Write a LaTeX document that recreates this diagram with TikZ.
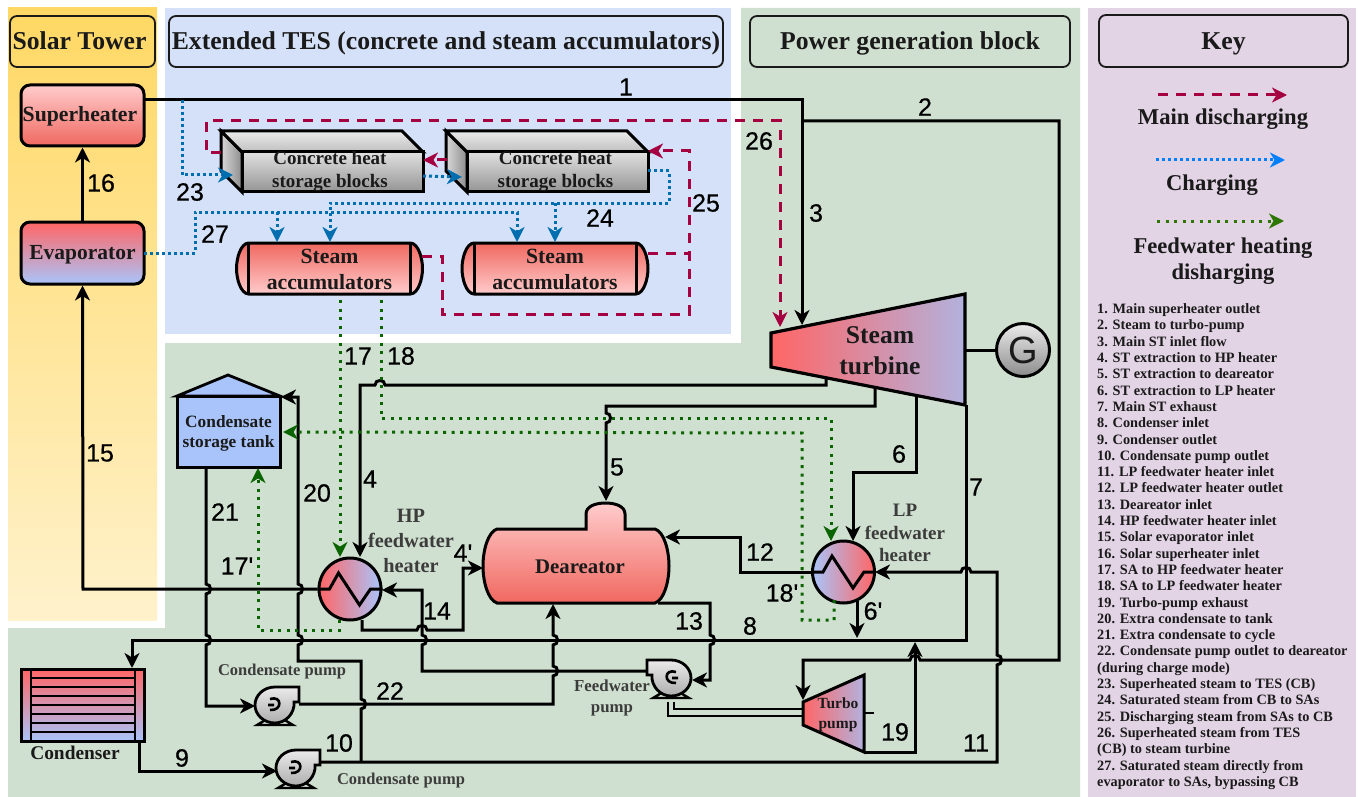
\documentclass[tikz,border=0pt]{standalone}
\usepackage{fontspec}
\setmainfont{Liberation Serif}
\newfontfamily\numfont[FakeBold=0.6]{Liberation Sans}
\newfontfamily\genfont{Liberation Sans}
\usepackage{xcolor}
\usetikzlibrary{arrows.meta, calc}
\definecolor{solartop}{RGB}{255,216,100}
\definecolor{solarbot}{RGB}{255,242,204}
\definecolor{tesblue}{RGB}{212,225,248}
\definecolor{pgreen}{RGB}{208,224,208}
\definecolor{keyback}{RGB}{226,211,229}
\definecolor{hotred}{RGB}{255,102,102}
\definecolor{warmred}{RGB}{240,104,96}
\definecolor{palered}{RGB}{255,204,204}
\definecolor{coldblue}{RGB}{169,196,250}
\definecolor{turbblue}{RGB}{178,178,222}
\definecolor{redline}{RGB}{165,0,64}
\definecolor{blueline}{RGB}{0,110,175}
\definecolor{greenline}{RGB}{10,100,0}
\definecolor{keyblue}{RGB}{0,127,255}
\definecolor{keygreen}{RGB}{45,118,0}
\definecolor{inkdark}{RGB}{26,26,26}
\newcommand{\fsz}[2]{\fontsize{#1}{#2}\selectfont\bfseries}
\newcommand{\midtxt}[2]{\raisebox{#1}[0pt][0pt]{#2}}
% line hops, put inside a path
\newcommand{\hopdn}[2]{-- (#1,#2-5) .. controls +(6,0) and +(6,0) .. (#1,#2+5)}
\newcommand{\hopup}[2]{-- (#1,#2+5) .. controls +(6,0) and +(6,0) .. (#1,#2-5)}
\newcommand{\hopri}[2]{-- (#1-5,#2) .. controls +(0,-6) and +(0,-6) .. (#1+5,#2)}
\newcommand{\hople}[2]{-- (#1+5,#2) .. controls +(0,-6) and +(0,-6) .. (#1-5,#2)}
\tikzset{
  titlebox/.style={draw=inkdark, line width=1.8pt, rounded corners=7pt, font=\fsz{25.7}{28}, text=inkdark, inner sep=0pt},
  equip/.style={draw=black, line width=3pt, inner sep=0pt, text=inkdark},
  pipe/.style={draw=black, line width=3pt},
  tipped/.style={-{Stealth[length=15pt,width=15pt,inset=4.5pt]}},
  redflow/.style={draw=redline, line width=3pt, dash pattern=on 10pt off 8pt},
  blueflow/.style={draw=blueline, line width=3pt, dash pattern=on 3pt off 3pt},
  greenflow/.style={draw=greenline, line width=3pt, dash pattern=on 3pt off 5.5pt},
  numlabel/.style={font=\numfont\fontsize{25}{25}\selectfont, inner sep=0pt, text=black},
  keytext/.style={font=\fsz{22.6}{26}, text=inkdark, inner sep=0pt, align=center},
  smalltext/.style={font=\fsz{16.5}{21}, text=inkdark!85!white, inner sep=0pt, align=center},
  pumpsym/.pic={
    \draw[line width=2.4pt] (-8,14) -- (-18,20) -- (18,20) -- (8,14);
    \draw[line width=2.8pt, top color=white!92!black, bottom color=black!32] (0,-18) -- (24,-18) -- (24,-3) -- (19,-3)
      .. controls (20,8) and (11,18) .. (0,18) .. controls (-11,18) and (-20,10) .. (-20,0)
      .. controls (-20,-10) and (-11,-18) .. (0,-18) -- cycle;
    \draw[line width=2.6pt] (-5,-6) .. controls (7,-10) and (8,6) .. (-5,5) (-7,0) -- (-1,0);
  },
  heatblock/.pic={
    \draw[line width=3pt, left color=black!15, right color=black!45] (0,0) -- (21,21) -- (21,61) -- (0,40) -- cycle;
    \draw[line width=3pt, top color=black!8, bottom color=black!25] (0,0) -- (181,0) -- (202,21) -- (21,21) -- cycle;
    \draw[line width=3pt, top color=black!12, bottom color=black!42] (21,21) rectangle (202,61);
  },
  accumsym/.pic={
    \draw[line width=3pt, top color=warmred, bottom color=palered] (-81,-25.5) -- (81,-25.5)
      .. controls (89,-25) and (93,-10) .. (93,0) .. controls (93,10) and (89,25) .. (81,25.5)
      -- (-81,25.5) .. controls (-89,25) and (-93,10) .. (-93,0) .. controls (-93,-10) and (-89,-25) .. (-81,-25.5) -- cycle;
    \draw[line width=3pt] (-81,-25.5) -- (-81,25.5) (81,-25.5) -- (81,25.5);
  },
}

\begin{document}
\begin{tikzpicture}[x=1pt, y=-1pt]
  \useasboundingbox (0,0) rectangle (1358,797);

  % background panels
  \fill[top color=solartop, bottom color=solarbot] (8,8) rectangle (157,620);
  \fill[tesblue] (165,8) rectangle (731,334);
  \fill[pgreen] (741,8) -- (1080,8) -- (1080,797) -- (8,797) -- (8,628) -- (165,628) -- (165,343) -- (741,343) -- cycle;
  \fill[keyback] (1088,8) rectangle (1356,797);

  \node[titlebox, minimum width=145pt, minimum height=51pt] (titlesolar) at (82.5,41.5) {\hspace*{-6pt}\midtxt{-8.5pt}{Solar Tower}};
  \node[titlebox, minimum width=554pt, minimum height=51pt] (titletes) at (446,41.5) {\midtxt{-8.5pt}{Extended TES (concrete and steam accumulators)}};
  \node[titlebox, minimum width=320pt, minimum height=51pt] (titlepower) at (910,41.5) {\midtxt{-8.5pt}{Power generation block}};
  \node[titlebox, minimum width=249pt, minimum height=52pt] (titlekey) at (1223.5,41) {\midtxt{-8.5pt}{Key}};

  % solar tower
  \node[equip, rounded corners=9pt, top color=palered, bottom color=warmred, minimum width=123pt, minimum height=61pt,
        font=\fsz{21.7}{24}] (superheater) at (82.5,115.5) {\hspace*{-5pt}\midtxt{-6.5pt}{Superheater}};
  \node[equip, rounded corners=9pt, top color=hotred, bottom color=coldblue, minimum width=123pt, minimum height=62pt,
        font=\fsz{21.5}{24}] (evaporator) at (82.5,253) {\midtxt{-6.5pt}{Evaporator}};

  % storage
  \pic at (221,131) {heatblock};
  \pic at (446,131) {heatblock};
  \node[font=\fsz{19}{23}, align=center, inner sep=0pt, text=inkdark] (blocka) at (330,172) {Concrete heat\\storage blocks};
  \node[font=\fsz{19}{23}, align=center, inner sep=0pt, text=inkdark] (blockb) at (555.5,172) {Concrete heat\\storage blocks};
  \pic at (329.5,268.5) {accumsym};
  \pic at (555,268.5) {accumsym};
  \node[font=\fsz{21.7}{26}, align=center, inner sep=0pt, text=inkdark] (accuma) at (329.5,269) {Steam\\accumulators};
  \node[font=\fsz{21.7}{26}, align=center, inner sep=0pt, text=inkdark] (accumb) at (555,269) {Steam\\accumulators};

  % power block equipment
  \draw[line width=3.2pt, left color=hotred, right color=turbblue] (771,333) -- (965,294) -- (965,405) -- (771,367) -- cycle;
  \node[font=\fsz{25.6}{31}, align=center, inner sep=0pt, text=inkdark] (turbine) at (880,351) {Steam\\turbine};
  \node[equip, circle, top color=black!8, bottom color=black!45, minimum size=53pt, font=\genfont\fontsize{38}{38}\selectfont] (gen) at (1023,350) {G};

  \draw[line width=3pt, left color=hotred, right color=turbblue] (803,702) -- (864,675) -- (864,752) -- (803,725) -- cycle;
  \node[font=\fsz{15.5}{20}, align=center, inner sep=0pt, text=inkdark] (turbopump) at (838,715) {Turbo\\pump};

  \node[equip, circle, left color=hotred, right color=coldblue, minimum size=62pt] (hpheater) at (350,589) {};
  \node[equip, circle, left color=coldblue, right color=hotred, minimum size=62pt] (lpheater) at (843.5,572) {};
  \foreach \hname in {hpheater,lpheater}
    \draw[pipe] (\hname.west) -- ++(12,0) -- ++(9,-16) -- ++(21,32) -- ++(11,-16) -- (\hname.east);
  \node[smalltext, font=\fsz{20.3}{25}] (hplabel) at (411,540.5) {HP\\feedwater\\heater};
  \node[smalltext, font=\fsz{19}{22.5}] (lplabel) at (905,533) {LP\\feedwater\\heater};

  \draw[line width=3pt, top color=palered, bottom color=warmred] (497,529) -- (586,529) -- (586,514)
    .. controls (586,506) and (596,503) .. (605.5,503) .. controls (615,503) and (625,506) .. (625,514) -- (625,529) -- (655,529)
    .. controls (664,532) and (669,550) .. (669,566) .. controls (669,582) and (664,600) .. (655,603) -- (497,603)
    .. controls (488,600) and (483,582) .. (483,566) .. controls (483,550) and (488,532) .. (497,529) -- cycle;
  \node[font=\fsz{20.8}{22}, inner sep=0pt, text=inkdark] (deareator) at (580,566.5) {Deareator};

  \draw[line width=2.8pt, fill=coldblue] (177,396) -- (228,375) -- (280,396) -- cycle;
  \node[equip, fill=coldblue, minimum width=103pt, minimum height=71pt] (tank) at (228.5,431.5) {};
  \node[font=\fsz{17.3}{20.5}, align=center, inner sep=0pt, text=inkdark] (tanklabel) at (228.5,433.5) {Condensate\\storage tank};

  \node[equip, top color=hotred, bottom color=coldblue, minimum width=123pt, minimum height=72pt] (condenser) at (82.5,705) {};
  \foreach \ylev in {678,687,696,705,714,723,732}
    \draw[line width=2.4pt] (31,\ylev) -- (135,\ylev);
  \draw[line width=2.8pt] (31,669) -- (31,741) (135,669) -- (135,741);
  \node[font=\fsz{19.4}{20}, inner sep=0pt, text=inkdark] (condlabel) at (75,752.5) {Condenser};

  \pic at (275,705) {pumpsym};
  \pic at (296,768) {pumpsym};
  \pic[xscale=-1] at (671,678) {pumpsym};
  \node[smalltext] (pumpa) at (282,672) {Condensate pump};
  \node[smalltext] (pumpb) at (401,781) {Condensate pump};
  \node[smalltext, font=\fsz{16.8}{21}] (pumpc) at (612,697.5) {Feedwater\\pump};

  % connector ends
  \coordinate (shout) at (144,100);
  \coordinate (st3) at (802,325);
  \coordinate (split2) at (802,121);
  \coordinate (tpin) at (803,700);
  \coordinate (ext4) at (826,378);
  \coordinate (hp4) at (360,557);
  \coordinate (ext5) at (875,387);
  \coordinate (ext6) at (916,396);
  \coordinate (ext7) at (966,405);
  \coordinate (lp6) at (853,541);
  \coordinate (dome) at (606,501);
  \coordinate (condin) at (132,668);
  \coordinate (lpout) at (857,601);
  \coordinate (line8a) at (857,638);
  \coordinate (tpout) at (864,752);
  \coordinate (line8b) at (915,642);
  \coordinate (condout) at (139,741);
  \coordinate (cpbin) at (277,771);
  \coordinate (cpbout) at (320,762);
  \coordinate (lpin) at (875,572);
  \coordinate (tee10) at (361,762);
  \coordinate (tankin) at (281,397);
  \coordinate (tankout) at (206,467);
  \coordinate (cpain) at (255,706);
  \coordinate (cpaout) at (299,704);
  \coordinate (dearbot) at (553,604);
  \coordinate (dearin12) at (665,537);
  \coordinate (dearout) at (658,603);
  \coordinate (fwin) at (692,680);
  \coordinate (fwout) at (647,671);
  \coordinate (hpin) at (382,590);
  \coordinate (hpout) at (362,620);
  \coordinate (dearin4) at (483,568);
  \coordinate (turbright) at (965,350);

  % main lines
  \draw[pipe, tipped] (evaporator.north) -- (superheater.south);
  \draw[pipe, tipped] (shout) -- (802,100) -- (st3);
  \draw[pipe, tipped] (split2) -- (1059,121) -- (1059,660) \hople{915}{660} -- (803,660) -- (tpin);
  \draw[pipe, tipped] (ext4) -- (826,385) \hople{380}{385} -- (360,385) -- (hp4);
  \draw[pipe, tipped] (ext5) -- (875,406) -- (606,406) \hopdn{606}{418} -- (dome);
  \draw[pipe, tipped] (ext6) -- (916,472) -- (853,472) -- (lp6);
  \draw[pipe, tipped] (ext7) -- (966,640) -- (132,640) -- (condin);
  \draw[pipe, tipped] (lpout) -- (line8a);
  \draw[pipe, tipped] (tpout) -- (915,752) -- (line8b);
  \draw[pipe, tipped] (condout) -- (139,771) -- (cpbin);
  \draw[pipe, tipped] (cpbout) -- (997,762) \hopup{997}{660} -- (997,572) \hople{966}{572} -- (lpin);
  \draw[pipe, tipped] (tee10) \hopup{361}{704} -- (361,661) -- (298,661) \hopup{298}{640} \hopup{298}{589} -- (298,397) -- (tankin);
  \draw[pipe, tipped] (tankout) \hopdn{206}{589} \hopdn{206}{640} -- (206,706) -- (cpain);
  \draw[pipe, tipped] (cpaout) -- (553,704) \hopup{553}{671} \hopup{553}{640} -- (dearbot);
  \draw[pipe, tipped] (hpheater.west) -- (83,589) -- (evaporator.south);
  \draw[pipe, tipped] (lpheater.west) -- (740,572) -- (740,537) -- (dearin12);
  \draw[pipe, tipped] (dearout) -- (710,603) \hopdn{710}{640} -- (710,680) -- (fwin);
  \draw[pipe, tipped] (fwout) -- (422,671) \hopup{422}{640} -- (422,590) -- (hpin);
  \draw[pipe, tipped] (hpout) -- (362,630) \hopri{422}{630} -- (463,630) -- (463,568) -- (dearin4);
  \draw[pipe] (turbright) -- (gen.west);
  \draw[line width=2.4pt] (864,713) -- (874,713);
  \draw[line width=2.8pt] (803,709) -- (674,709) -- (674,702) (803,716) -- (668,716) -- (668,702);

  % charging
  \coordinate (tap23) at (182,100);
  \coordinate (blockain) at (233,175);
  \coordinate (blockaout) at (423,176);
  \coordinate (blockbin) at (462,177);
  \coordinate (blockbout) at (648,171);
  \coordinate (evout) at (144,253);
  \draw[blueflow, tipped] (tap23) -- (182,175) -- (blockain);
  \draw[blueflow, tipped] (blockaout) -- (blockbin);
  \draw[blueflow, tipped] (blockbout) -- (669,171) -- (669,203) -- (330,203) -- (330,242);
  \draw[blueflow, tipped] (555,203) -- (555,242);
  \draw[blueflow, tipped] (evout) -- (195,253) -- (195,212) -- (517,212) -- (517,242);
  \draw[blueflow, tipped] (277,212) -- (277,242);

  % discharging
  \coordinate (blockaback) at (221,153);
  \coordinate (tip26) at (780,327);
  \coordinate (blockbback) at (447,160);
  \coordinate (blockaright) at (423,160);
  \coordinate (accaout) at (422,256);
  \coordinate (accbout) at (648,253);
  \coordinate (blockbright) at (648,151);
  \draw[redflow, tipped] (blockaback) -- (206,153) -- (206,121) -- (780,121) -- (tip26);
  \draw[redflow, tipped] (blockbback) -- (blockaright);
  \draw[redflow, tipped] (accaout) -- (442,256) -- (442,314) -- (689,314) -- (689,151) -- (blockbright);
  \draw[redflow] (accbout) -- (689,253);

  % feedwater heating
  \coordinate (acca17) at (340,300);
  \coordinate (hp17) at (340,557);
  \coordinate (acca18) at (381,300);
  \coordinate (lp18) at (831,541);
  \coordinate (lpret) at (834,600);
  \coordinate (tanktip) at (283,432);
  \coordinate (hpret) at (339,620);
  \coordinate (tankbot) at (258,468);
  \draw[greenflow, tipped] (acca17) -- (hp17);
  \draw[greenflow, tipped] (acca18) -- (381,418) -- (831,418) -- (lp18);
  \draw[greenflow, tipped] (lpret) -- (834,620) -- (802,620) -- (802,433) -- (tanktip);
  \draw[greenflow, tipped] (hpret) -- (339,630) -- (258,630) -- (tankbot);

  % stream numbers
  \foreach \nname/\lab/\lx/\ly in {n1/1/626/87, n2/2/925/107, n3/3/816/213, n4/4/370/479, n4p/4'/463/553, n5/5/617/467,
      n6/6/899/454, n6p/6'/873/611, n7/7/976/487, n8/8/750/626, n9/9/182/758, n10/10/339/743, n11/11/976/743,
      n12/12/760/552, n13/13/689/621, n14/14/437/611, n15/15/100/453, n16/16/101/183, n17/17/358/356,
      n17p/17'/237/566, n18/18/401/356, n18p/18'/782/593, n19/19/895/732, n20/20/317/493, n21/21/225/512,
      n22/22/390/691, n23/23/190/192, n24/24/600/218, n25/25/706/203, n26/26/759/141, n27/27/215/234}
    \node[numlabel] (\nname) at (\lx,\ly) {\lab};

  % key
  \coordinate (keyaa) at (1158,95);
  \coordinate (keyab) at (1287,95);
  \coordinate (keyba) at (1156,160);
  \coordinate (keybb) at (1285,160);
  \coordinate (keyca) at (1157,221);
  \coordinate (keycb) at (1284,221);
  \draw[redflow, tipped] (keyaa) -- (keyab);
  \draw[blueflow, draw=keyblue, tipped] (keyba) -- (keybb);
  \draw[greenflow, draw=keygreen, tipped] (keyca) -- (keycb);
  \node[keytext] (keymain) at (1223,119) {Main discharging};
  \node[keytext] (keycharge) at (1212,185) {Charging};
  \node[keytext] (keyfeed) at (1223,261.5) {Feedwater heating\\disharging};

  \node[anchor=north west, font=\fsz{14.3}{16.3}, align=left, inner sep=0pt, text=inkdark] (keylist) at (1097,303.5) {
    1. Main superheater outlet\\
    2. Steam to turbo-pump\\
    3. Main ST inlet flow\\
    4. ST extraction to HP heater\\
    5. ST extraction to deareator\\
    6. ST extraction to LP heater\\
    7. Main ST exhaust\\
    8. Condenser inlet\\
    9. Condenser outlet\\
    10. Condensate pump outlet\\
    11. LP feedwater heater inlet\\
    12. LP feedwater heater outlet\\
    13. Deareator inlet\\
    14. HP feedwater heater inlet\\
    15. Solar evaporator inlet\\
    16. Solar superheater inlet\\
    17. SA to HP feedwater heater\\
    18. SA to LP feedwater heater\\
    19. Turbo-pump exhaust\\
    20. Extra condensate to tank\\
    21. Extra condensate to cycle\\
    22. Condensate pump outlet to deareator\\
    (during charge mode)\\
    23. Superheated steam to TES (CB)\\
    24. Saturated steam from CB to SAs\\
    25. Discharging steam from SAs to CB\\
    26. Superheated steam from TES\\
    (CB) to steam turbine\\
    27. Saturated steam directly from\\
    evaporator to SAs, bypassing CB};
\end{tikzpicture}
\end{document}
